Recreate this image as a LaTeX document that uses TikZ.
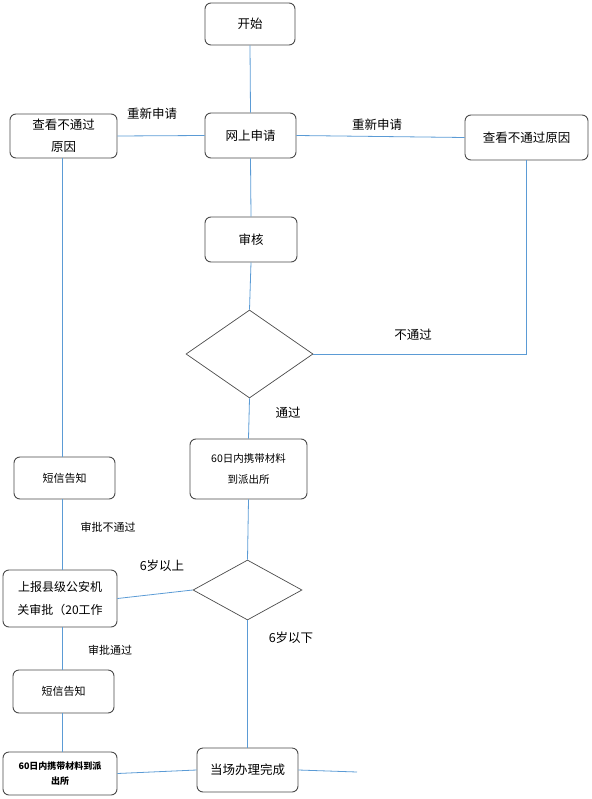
\documentclass[tikz,border=0pt]{standalone}
\usepackage{fontspec}
\setmainfont{Noto Sans CJK SC}
\usetikzlibrary{shapes.geometric}
\definecolor{conncol}{HTML}{5B9BD5}
\definecolor{boxcol}{HTML}{4A4A4A}
\tikzset{
  box/.style={draw=boxcol, line width=0.9pt, rounded corners=6pt, fill=white, inner sep=0pt, align=center, font=\fontsize{12.5}{16}\selectfont},
  dia/.style={draw=boxcol, line width=0.7pt, diamond, inner sep=0pt},
  conn/.style={draw=conncol, line width=0.8pt},
  lbl/.style={font=\fontsize{12.5}{15}\selectfont, inner sep=0pt},
  slbl/.style={font=\fontsize{11}{13}\selectfont, inner sep=0pt}
}
\begin{document}
\begin{tikzpicture}[x=1pt,y=-1pt]
\useasboundingbox (0,0) rectangle (591,799);
% nodes
\node[box, minimum width=90pt, minimum height=42pt] (start) at (250,24) {开始};
\node[box, minimum width=91pt, minimum height=45pt] (web) at (250.5,135.5) {网上申请};
\node[box, minimum width=107pt, minimum height=44pt, font=\fontsize{12.5}{19}\selectfont] (lreason) at (63.5,136) {查看不通过\\[-3pt]\raisebox{-6pt}{原因}};
\node[box, minimum width=123pt, minimum height=45pt] (rreason) at (526.5,137.5) {查看不通过原因};
\node[box, minimum width=92pt, minimum height=45pt] (audit) at (251,239.5) {审核};
\node[dia, minimum width=127pt, minimum height=88pt] (d1) at (249.5,354) {};
\node[box, minimum width=117pt, minimum height=60pt, font=\fontsize{10.5}{21}\selectfont] (bring) at (248.5,469) {60日内携带材料\\到派出所};
\node[box, minimum width=101pt, minimum height=42pt, font=\fontsize{11}{14}\selectfont] (sms1) at (64.5,478) {短信告知};
\node[dia, minimum width=109pt, minimum height=60pt] (d2) at (247.5,590) {};
\node[box, minimum width=114pt, minimum height=57pt, font=\fontsize{12}{23}\selectfont] (report) at (60,598.5) {上报县级公安机\\关审批（20工作};
\node[box, minimum width=101pt, minimum height=43pt, font=\fontsize{11}{14}\selectfont] (sms2) at (63.5,691.5) {短信告知};
\node[box, minimum width=114pt, minimum height=43pt, font=\bfseries\fontsize{9}{15}\selectfont] (bold) at (60,773.5) {60日内携带材料到派\\出所};
\node[box, minimum width=101pt, minimum height=44pt] (done) at (247.5,770) {当场办理完成};
\coordinate (lx) at (62,0);
\coordinate (fend) at (357,772);
% connectors
\draw[conn] (start.south) -- (web.north);
\draw[conn] (lreason.east) -- (web.west);
\draw[conn] (web.east) -- (rreason.west);
\draw[conn] (web.south) -- (audit.north);
\draw[conn] (audit.south) -- (d1.north);
\draw[conn] (d1.east) -- (d1.east -| rreason.south) -- (rreason.south);
\draw[conn] (d1.south) -- (bring.north);
\draw[conn] (bring.south) -- (d2.north);
\draw[conn] (d2.west) -- (report.east);
\draw[conn] (d2.south) -- (done.north);
\draw[conn] (lreason.south -| lx) -- (sms1.north -| lx);
\draw[conn] (sms1.south -| lx) -- (report.north -| lx);
\draw[conn] (report.south -| lx) -- (sms2.north -| lx);
\draw[conn] (sms2.south -| lx) -- (bold.north -| lx);
\draw[conn] (bold.east) -- (done.west);
\draw[conn] (done.east) -- (fend);
% labels
\node[lbl] (l1) at (152,114) {重新申请};
\node[lbl] (l2) at (377,125) {重新申请};
\node[lbl] (l3) at (413,335) {不通过};
\node[lbl] (l4) at (288,413) {通过};
\node[slbl] (l5) at (108,527) {审批不通过};
\node[lbl] (l6) at (162,566) {6岁以上};
\node[lbl] (l7) at (291,638) {6岁以下};
\node[slbl] (l8) at (110,650) {审批通过};
\end{tikzpicture}
\end{document}
